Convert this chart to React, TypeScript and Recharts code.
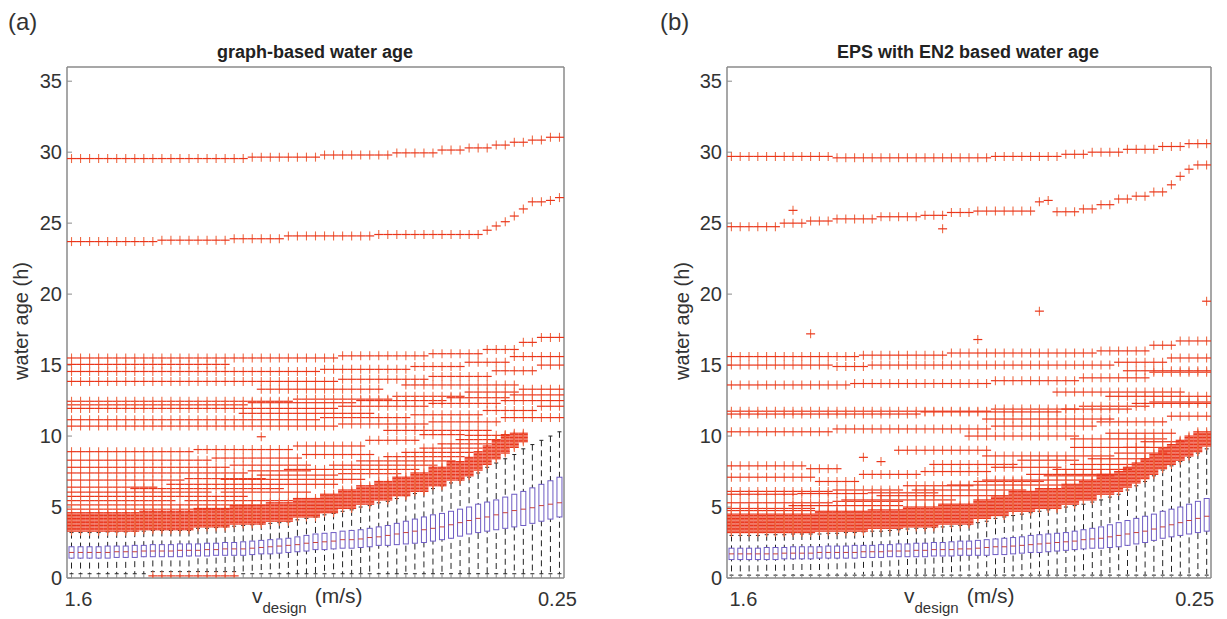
import React from "react";
import { ComposedChart, Bar, Scatter, XAxis, YAxis } from "recharts";

const FONT = "'Liberation Sans', Arial, Helvetica, sans-serif";
const OUT_H = "#ea351b";
const OUT_V = "#ee6a45";
const FRAME = "#8a8a8a";

// x tick labels (first and last box), y ticks
const xTickLabels = ["1.6", "0.25"];
const yTicks = [0, 5, 10, 15, 20, 25, 30, 35];

// ---- panel (a): graph-based water age, box stats per box (55 boxes) ----
const aLo = [
  0.3, 0.3, 0.3, 0.3, 0.3, 0.3, 0.3, 0.3, 0.3, 0.45,
  0.45, 0.45, 0.45, 0.45, 0.45, 0.45, 0.45, 0.45, 0.45, 0.3,
  0.3, 0.3, 0.3, 0.3, 0.3, 0.3, 0.3, 0.3, 0.3, 0.3,
  0.3, 0.3, 0.3, 0.3, 0.3, 0.3, 0.3, 0.3, 0.3, 0.3,
  0.3, 0.3, 0.3, 0.3, 0.3, 0.3, 0.3, 0.3, 0.3, 0.3,
  0.3, 0.3, 0.3, 0.3, 0.3,
];
const aQ1 = [
  1.4, 1.4, 1.4, 1.4, 1.4, 1.45, 1.45, 1.45, 1.5, 1.5,
  1.5, 1.5, 1.5, 1.55, 1.55, 1.55, 1.6, 1.6, 1.6, 1.6,
  1.65, 1.7, 1.7, 1.75, 1.8, 1.85, 1.9, 2.0, 2.0, 2.05,
  2.1, 2.1, 2.15, 2.2, 2.3, 2.3, 2.35, 2.4, 2.45, 2.5,
  2.6, 2.7, 2.8, 2.95, 3.1, 3.2, 3.3, 3.4, 3.5, 3.6,
  3.7, 3.85, 4.0, 4.15, 4.3,
];
const aMed = [
  1.8, 1.8, 1.8, 1.8, 1.8, 1.85, 1.85, 1.85, 1.9, 1.9,
  1.9, 1.9, 1.95, 1.95, 1.95, 2.0, 2.0, 2.05, 2.05, 2.05,
  2.1, 2.15, 2.2, 2.25, 2.3, 2.35, 2.45, 2.5, 2.55, 2.6,
  2.7, 2.7, 2.75, 2.85, 2.9, 3.0, 3.1, 3.2, 3.3, 3.4,
  3.5, 3.6, 3.75, 3.9, 4.05, 4.2, 4.3, 4.45, 4.6, 4.75,
  4.85, 4.95, 5.1, 5.2, 5.3,
];
const aQ3 = [
  2.2, 2.2, 2.2, 2.2, 2.25, 2.25, 2.25, 2.3, 2.3, 2.35,
  2.35, 2.35, 2.4, 2.4, 2.4, 2.45, 2.45, 2.5, 2.5, 2.55,
  2.6, 2.65, 2.7, 2.75, 2.8, 2.9, 3.0, 3.1, 3.15, 3.2,
  3.3, 3.35, 3.4, 3.5, 3.6, 3.7, 3.85, 4.0, 4.15, 4.3,
  4.45, 4.55, 4.7, 4.85, 5.0, 5.2, 5.35, 5.5, 5.7, 5.9,
  6.1, 6.35, 6.6, 6.85, 7.1,
];
const aHi = [
  3.2, 3.2, 3.2, 3.2, 3.25, 3.25, 3.25, 3.3, 3.3, 3.35,
  3.35, 3.35, 3.35, 3.35, 3.5, 3.5, 3.55, 3.6, 3.65, 3.7,
  3.75, 3.8, 3.85, 3.9, 3.95, 4.1, 4.2, 4.3, 4.45, 4.55,
  4.7, 4.8, 5.0, 5.1, 5.3, 5.4, 5.6, 5.8, 5.95, 6.1,
  6.3, 6.5, 6.7, 6.9, 7.1, 7.4, 7.8, 8.1, 8.4, 8.7,
  9.1, 9.4, 9.7, 10.0, 10.3,
];
// outliers as rows of "+": [value, first box, last box]
const aOutliers: [number, number, number][] = [
  // ~30 h row
  [29.55, 1, 20], [29.65, 21, 28], [29.8, 29, 36], [29.95, 37, 41], [30.15, 42, 44],
  [30.3, 45, 47], [30.5, 48, 49], [30.7, 50, 51], [30.85, 52, 53], [31.05, 54, 55],
  // ~24 h row
  [23.7, 1, 10], [23.8, 11, 18], [23.9, 19, 24], [24.1, 25, 34], [24.2, 35, 46],
  [24.5, 47, 47], [24.8, 48, 48], [25.1, 49, 49], [25.5, 50, 50], [26.0, 51, 51],
  [26.5, 52, 53], [26.6, 54, 54], [26.8, 55, 55],
  // 10-17 h group
  [15.5, 1, 30], [15.65, 31, 40], [15.8, 41, 46], [16.1, 47, 50], [16.6, 51, 52], [16.95, 53, 55],
  [15.05, 1, 18],
  [14.55, 1, 28], [14.7, 29, 38], [14.9, 39, 44], [15.2, 45, 49], [15.6, 50, 55],
  [13.85, 1, 30], [14.0, 31, 40], [14.2, 41, 47], [14.6, 48, 52], [15.0, 53, 55],
  [12.45, 1, 25], [12.6, 26, 36], [12.8, 37, 44], [13.1, 45, 50], [13.3, 51, 55],
  [12.2, 1, 20], [12.35, 21, 32], [12.5, 33, 42], [12.7, 43, 49], [12.9, 50, 55],
  [11.95, 1, 30], [12.1, 31, 40], [12.3, 41, 48], [12.5, 49, 55],
  [11.15, 1, 28], [11.3, 29, 38], [11.5, 39, 46], [11.8, 47, 52], [12.1, 53, 55],
  [10.7, 1, 30], [10.85, 31, 40], [11.0, 41, 48], [11.3, 49, 55],
  [13.3, 22, 35], [11.6, 20, 34], [13.6, 38, 50], [10.4, 36, 47],
  // sparse rows above the mass
  [8.9, 1, 14], [9.05, 15, 25], [9.3, 26, 33], [9.7, 34, 39], [10.1, 40, 44],
  [8.3, 1, 16], [8.45, 17, 26], [8.7, 27, 34],
  [7.8, 1, 18], [7.95, 19, 27],
  [7.4, 1, 20], [7.55, 21, 27],
  [6.9, 1, 13], [7.0, 14, 22],
  [6.4, 1, 10],
  // medium rows above the core
  [4.85, 1, 18], [5.15, 1, 22], [5.45, 1, 12], [5.45, 14, 25], [5.75, 1, 20], [6.05, 1, 16],
  [6.05, 18, 27], [6.3, 8, 24], [6.6, 12, 30], [6.95, 18, 33], [7.25, 22, 30], [7.35, 31, 37],
  [7.65, 25, 39], [7.95, 30, 41], [8.25, 33, 43], [8.55, 36, 44], [8.85, 38, 45], [9.15, 40, 46],
  [9.45, 42, 47], [9.75, 44, 48], [10.05, 45, 49],
  // dense core along the lower edge
  [3.3, 1, 8], [3.4, 1, 14], [3.5, 1, 14], [3.6, 1, 18], [3.7, 1, 18], [3.8, 1, 22], [3.9, 1, 22],
  [4.0, 1, 25], [4.1, 1, 25], [4.2, 1, 25], [4.3, 1, 28], [4.4, 1, 28], [4.5, 1, 28], [4.6, 1, 30],
  [4.7, 9, 30], [4.8, 15, 30], [4.9, 15, 32], [5.0, 19, 32], [5.1, 19, 32], [5.2, 23, 34],
  [5.3, 23, 34], [5.4, 26, 34], [5.5, 26, 36], [5.6, 26, 36], [5.7, 29, 36], [5.8, 29, 38],
  [5.9, 29, 38], [6.0, 31, 38], [6.1, 31, 40], [6.2, 31, 40], [6.3, 33, 40], [6.4, 33, 40],
  [6.5, 33, 42], [6.6, 35, 42], [6.7, 35, 42], [6.8, 35, 42], [6.9, 37, 44], [7.0, 37, 44],
  [7.1, 37, 44], [7.2, 39, 45], [7.3, 39, 45], [7.4, 39, 45], [7.5, 41, 45], [7.6, 41, 46],
  [7.7, 41, 46], [7.8, 41, 46], [7.9, 43, 46], [8.0, 43, 47], [8.1, 43, 47], [8.2, 43, 47],
  [8.3, 45, 47], [8.4, 45, 48], [8.5, 45, 48], [8.6, 46, 48], [8.7, 46, 48], [8.8, 46, 49],
  [8.9, 46, 49], [9.0, 47, 49], [9.1, 47, 49], [9.2, 47, 50], [9.3, 47, 50], [9.4, 48, 50],
  [9.5, 48, 50], [9.6, 48, 51], [9.7, 48, 51], [9.8, 49, 51], [9.9, 49, 51], [10.0, 49, 51],
  [10.1, 49, 51], [10.2, 50, 51],
  // single points
  [9.95, 22, 22], [0.15, 10, 19],
];

// ---- panel (b): EPS with EN2 based water age ----
const bLo = [
  0.2, 0.2, 0.2, 0.2, 0.2, 0.2, 0.2, 0.2, 0.2, 0.2,
  0.2, 0.2, 0.2, 0.2, 0.2, 0.2, 0.2, 0.2, 0.2, 0.2,
  0.2, 0.2, 0.2, 0.2, 0.2, 0.2, 0.2, 0.2, 0.2, 0.2,
  0.2, 0.2, 0.2, 0.2, 0.2, 0.2, 0.2, 0.2, 0.2, 0.2,
  0.2, 0.2, 0.2, 0.2, 0.2, 0.2, 0.2, 0.2, 0.2, 0.2,
  0.2, 0.2, 0.2, 0.2, 0.2,
];
const bQ1 = [
  1.3, 1.3, 1.3, 1.3, 1.3, 1.3, 1.35, 1.35, 1.35, 1.35,
  1.4, 1.4, 1.4, 1.4, 1.4, 1.45, 1.45, 1.45, 1.5, 1.5,
  1.5, 1.5, 1.5, 1.55, 1.55, 1.55, 1.6, 1.6, 1.6, 1.6,
  1.65, 1.65, 1.7, 1.75, 1.8, 1.8, 1.85, 1.9, 1.95, 2.0,
  2.05, 2.1, 2.1, 2.15, 2.2, 2.3, 2.4, 2.5, 2.65, 2.8,
  2.9, 3.0, 3.1, 3.2, 3.3,
];
const bMed = [
  1.7, 1.7, 1.7, 1.7, 1.7, 1.7, 1.75, 1.75, 1.75, 1.75,
  1.8, 1.8, 1.8, 1.8, 1.8, 1.85, 1.85, 1.85, 1.9, 1.9,
  1.9, 1.95, 1.95, 2.0, 2.0, 2.0, 2.05, 2.05, 2.1, 2.15,
  2.2, 2.2, 2.25, 2.3, 2.35, 2.4, 2.45, 2.5, 2.55, 2.6,
  2.7, 2.75, 2.8, 2.9, 3.0, 3.1, 3.2, 3.3, 3.45, 3.6,
  3.75, 3.9, 4.05, 4.2, 4.35,
];
const bQ3 = [
  2.1, 2.1, 2.1, 2.1, 2.15, 2.15, 2.15, 2.2, 2.2, 2.2,
  2.2, 2.25, 2.25, 2.25, 2.3, 2.3, 2.3, 2.35, 2.35, 2.4,
  2.4, 2.45, 2.45, 2.5, 2.5, 2.55, 2.6, 2.6, 2.65, 2.7,
  2.75, 2.8, 2.85, 2.9, 3.0, 3.05, 3.1, 3.15, 3.2, 3.3,
  3.4, 3.5, 3.6, 3.75, 3.9, 4.05, 4.2, 4.35, 4.5, 4.7,
  4.85, 5.0, 5.2, 5.4, 5.6,
];
const bHi = [
  3.0, 3.0, 3.0, 3.0, 3.05, 3.05, 3.05, 3.1, 3.1, 3.1,
  3.1, 3.15, 3.15, 3.2, 3.2, 3.25, 3.3, 3.3, 3.35, 3.4,
  3.45, 3.5, 3.5, 3.55, 3.6, 3.65, 3.7, 3.75, 3.9, 4.0,
  4.2, 4.3, 4.4, 4.5, 4.6, 4.7, 4.8, 4.9, 5.0, 5.1,
  5.2, 5.35, 5.5, 5.7, 5.9, 6.2, 6.5, 6.8, 7.2, 7.6,
  7.9, 8.2, 8.5, 8.8, 9.1,
];
const bOutliers: [number, number, number][] = [
  // ~30 h row
  [29.7, 1, 12], [29.6, 13, 30], [29.7, 31, 38], [29.85, 39, 41], [30.0, 42, 45],
  [30.2, 46, 49], [30.4, 50, 52], [30.6, 53, 55],
  // ~25 h row
  [24.75, 1, 6], [25.0, 7, 9], [25.15, 10, 12], [25.3, 13, 17], [25.45, 18, 22],
  [25.55, 23, 25], [25.75, 26, 28], [25.85, 29, 35], [26.5, 36, 36], [26.6, 37, 37],
  [25.8, 38, 40], [26.0, 41, 42], [26.3, 43, 44], [26.7, 45, 46], [26.9, 47, 48],
  [27.2, 49, 50], [27.7, 51, 51], [28.3, 52, 52], [28.8, 53, 53], [29.1, 54, 55],
  // single points
  [25.9, 8, 8], [24.6, 25, 25], [17.2, 10, 10], [18.8, 36, 36], [19.5, 55, 55], [16.8, 29, 29],
  // 10-17 h group
  [15.6, 1, 15], [15.7, 16, 25], [15.85, 26, 42], [16.0, 43, 48], [16.4, 49, 51], [16.7, 52, 55],
  [15.0, 1, 12], [14.9, 13, 16], [15.0, 17, 44], [15.2, 45, 50], [15.5, 51, 55],
  [13.6, 1, 14], [13.7, 15, 30], [13.9, 31, 40], [14.1, 41, 48], [14.5, 49, 55],
  [11.75, 1, 30], [11.9, 31, 40], [12.1, 41, 48], [12.4, 49, 55],
  [11.55, 1, 22], [11.7, 23, 38], [11.9, 39, 46], [12.3, 47, 55],
  [10.3, 1, 12], [10.5, 13, 30], [10.7, 31, 42], [11.0, 43, 50], [11.4, 51, 55],
  [13.1, 38, 52], [12.8, 44, 55], [14.6, 46, 55], [11.2, 30, 44], [10.0, 28, 40],
  // sparse rows
  [7.9, 1, 9], [7.7, 10, 13], [8.0, 24, 33], [8.3, 34, 40],
  [7.1, 1, 10], [6.8, 11, 15], [7.3, 16, 22], [7.5, 23, 30], [7.8, 31, 38],
  [6.1, 1, 12], [6.2, 13, 20], [6.5, 21, 28], [6.8, 29, 36], [7.2, 37, 44],
  [5.9, 1, 8], [5.95, 9, 16], [6.0, 17, 24],
  [5.3, 1, 12], [5.4, 13, 20],
  [4.9, 1, 10],
  [9.0, 20, 30], [8.6, 30, 44], [9.2, 40, 48], [9.8, 40, 50], [10.2, 44, 51], [8.5, 16, 16], [8.2, 18, 18],
  // medium rows above the core
  [4.75, 1, 10], [5.1, 8, 20], [5.5, 14, 26], [5.8, 18, 30], [6.2, 22, 34], [6.55, 26, 38],
  [6.9, 30, 40], [7.3, 35, 44], [7.65, 38, 46], [8.0, 40, 47], [8.4, 42, 48], [8.8, 45, 50],
  [9.2, 46, 51], [9.6, 48, 52],
  // dense core along the lower edge
  [3.2, 1, 10], [3.3, 1, 16], [3.4, 1, 16], [3.5, 1, 20], [3.6, 1, 24], [3.7, 1, 24],
  [3.8, 1, 28], [3.9, 1, 28], [4.0, 1, 28], [4.1, 1, 28], [4.2, 1, 30], [4.3, 1, 30],
  [4.4, 1, 32], [4.5, 1, 32], [4.6, 11, 32], [4.7, 11, 35], [4.8, 17, 35], [4.9, 21, 38],
  [5.0, 21, 38], [5.1, 25, 38], [5.2, 25, 40], [5.3, 29, 40], [5.4, 29, 40], [5.5, 29, 42],
  [5.6, 31, 42], [5.7, 31, 42], [5.8, 31, 42], [5.9, 33, 44], [6.0, 33, 44], [6.1, 33, 45],
  [6.2, 36, 45], [6.3, 36, 45], [6.4, 39, 46], [6.5, 39, 46], [6.6, 39, 46], [6.7, 41, 47],
  [6.8, 41, 47], [6.9, 41, 47], [7.0, 43, 48], [7.1, 43, 48], [7.2, 43, 48], [7.3, 43, 49],
  [7.4, 45, 49], [7.5, 45, 49], [7.6, 46, 49], [7.7, 46, 50], [7.8, 46, 50], [7.9, 47, 50],
  [8.0, 47, 51], [8.1, 47, 51], [8.2, 48, 51], [8.3, 48, 52], [8.4, 48, 52], [8.5, 49, 52],
  [8.6, 49, 53], [8.7, 49, 53], [8.8, 50, 53], [8.9, 50, 54], [9.0, 50, 54], [9.1, 50, 54],
  [9.2, 51, 54], [9.3, 51, 55], [9.4, 51, 55], [9.5, 52, 55], [9.6, 52, 55], [9.7, 52, 55],
  [9.8, 53, 55], [9.9, 53, 55], [10.0, 53, 55], [10.1, 54, 55], [10.2, 54, 55], [10.3, 54, 55],
];

function buildBoxes(lo: number[], q1: number[], med: number[], q3: number[], hi: number[]) {
  return q1.map((_, i) => ({
    k: i + 1,
    whisker: [lo[i], hi[i]],
    box: [q1[i], q3[i]],
    q1: q1[i],
    q3: q3[i],
    med: med[i],
  }));
}

function buildOutliers(rows: [number, number, number][]) {
  const pts: { k: number; v: number }[] = [];
  rows.forEach(([v, from, to]) => {
    for (let k = from; k <= to; k++) pts.push({ k, v });
  });
  return pts;
}

const boxesA = buildBoxes(aLo, aQ1, aMed, aQ3, aHi);
const boxesB = buildBoxes(bLo, bQ1, bMed, bQ3, bHi);
const outA = buildOutliers(aOutliers);
const outB = buildOutliers(bOutliers);
const boxTicks = boxesA.map((b) => b.k);
const lastBox = boxesA.length;

const Plus = (p: any) => {
  const { cx, cy } = p;
  if (cx == null || cy == null) return <g />;
  return (
    <g fill="none">
      <path d={`M${cx},${cy - 4.5}V${cy + 4.5}`} stroke={OUT_V} strokeWidth={1.1} />
      <path d={`M${cx - 4.5},${cy}H${cx + 4.5}`} stroke={OUT_H} strokeWidth={1.2} />
    </g>
  );
};

const WhiskerShape = (p: any) => {
  const { x, y, width, height } = p;
  const top = Math.min(y, y + height);
  const bot = Math.max(y, y + height);
  const cx = x + width / 2;
  return (
    <g>
      <line x1={cx} x2={cx} y1={top} y2={bot} stroke="#222" strokeDasharray="6 4" />
      <line x1={cx - 2} x2={cx + 2} y1={top} y2={top} stroke="#222" />
      <line x1={cx - 2} x2={cx + 2} y1={bot} y2={bot} stroke="#222" />
    </g>
  );
};

const BoxShape = (p: any) => {
  const { x, y, width, height, payload } = p;
  const top = Math.min(y, y + height);
  const h = Math.abs(height);
  const my = top + (h * (payload.q3 - payload.med)) / (payload.q3 - payload.q1);
  return (
    <g>
      <rect x={x} y={top} width={width} height={h} fill="#fff" stroke="#6e5cc4" strokeWidth={1} />
      <line x1={x} x2={x + width} y1={my} y2={my} stroke="#c8403a" />
    </g>
  );
};

const tickStyle = { fill: "#333", fontSize: 20, fontFamily: FONT };

function makeXTick(shift: [number, number]) {
  return (p: any) => {
    const { x, y, payload } = p;
    const v = payload?.value;
    if (v !== 1 && v !== lastBox) return <g />;
    const label = v === 1 ? xTickLabels[0] : xTickLabels[1];
    const dx = v === 1 ? shift[0] : shift[1];
    return (
      <text x={x + dx} y={y} dy="0.75em" textAnchor="middle" fill="#333" fontSize={20} fontFamily={FONT}>
        {label}
      </text>
    );
  };
}

function Panel({ left, width, plotLeft, plotRight, boxes, outliers, shift }: any) {
  return (
    <div style={{ position: "absolute", left, top: 0 }}>
      <ComposedChart
        width={width}
        height={619}
        data={boxes}
        margin={{ top: 67, right: width - plotRight - 1, bottom: 1, left: plotLeft - 57 }}
      >
        <XAxis
          xAxisId="w"
          type="number"
          dataKey="k"
          domain={[0.5, lastBox + 0.5]}
          allowDataOverflow
          ticks={boxTicks}
          interval={0}
          height={40}
          tickSize={-4}
          tickMargin={17}
          axisLine={{ stroke: FRAME, strokeWidth: 1.5 }}
          tickLine={{ stroke: FRAME }}
          tick={makeXTick(shift)}
        />
        <XAxis
          xAxisId="t"
          orientation="top"
          type="number"
          dataKey="k"
          domain={[0.5, lastBox + 0.5]}
          allowDataOverflow
          ticks={boxTicks}
          interval={0}
          mirror
          height={1}
          tickSize={4}
          tick={false}
          axisLine={{ stroke: FRAME, strokeWidth: 1.5 }}
          tickLine={{ stroke: FRAME }}
        />
        <YAxis
          yAxisId="l"
          type="number"
          domain={[0, 36]}
          allowDataOverflow
          ticks={yTicks}
          interval={0}
          width={57}
          tickSize={-5}
          tickMargin={10}
          axisLine={{ stroke: FRAME, strokeWidth: 1.5 }}
          tickLine={{ stroke: FRAME }}
          tick={tickStyle}
        />
        <YAxis
          yAxisId="r"
          orientation="right"
          type="number"
          domain={[0, 36]}
          allowDataOverflow
          ticks={yTicks}
          interval={0}
          mirror
          width={1}
          tickSize={5}
          tick={false}
          axisLine={{ stroke: FRAME, strokeWidth: 1.5 }}
          tickLine={{ stroke: FRAME }}
        />
        <Bar xAxisId="w" yAxisId="l" dataKey="whisker" barSize={5} shape={WhiskerShape} isAnimationActive={false} />
        <Bar xAxisId="t" yAxisId="r" dataKey="box" barSize={5} shape={BoxShape} isAnimationActive={false} />
        <Scatter
          data={outliers}
          xAxisId="w"
          yAxisId="l"
          dataKey="v"
          shape={Plus}
          isAnimationActive={false}
        />
      </ComposedChart>
    </div>
  );
}

const abs = (left: number, top: number, extra: React.CSSProperties = {}): React.CSSProperties => ({
  position: "absolute",
  left,
  top,
  fontFamily: FONT,
  color: "#333",
  whiteSpace: "nowrap",
  ...extra,
});

function XLabel({ left }: { left: number }) {
  return (
    <div style={abs(left, 584, { fontSize: 21 })}>
      <span>v</span>
      <span style={{ fontSize: 15, position: "relative", top: 10 }}>design</span>
      <span style={{ marginLeft: 8 }}>(m/s)</span>
    </div>
  );
}

function YLabel({ cx }: { cx: number }) {
  return (
    <div
      style={abs(cx - 70, 309, {
        width: 140,
        textAlign: "center",
        fontSize: 20,
        transform: "rotate(-90deg)",
        transformOrigin: "70px 12px",
      })}
    >
      water age (h)
    </div>
  );
}

export default function App() {
  return (
    <div style={{ position: "absolute", left: 0, top: 0, width: 1227, height: 619, background: "#fff", overflow: "hidden" }}>
      <div style={abs(8, 8, { fontSize: 24 })}>(a)</div>
      <div style={abs(660, 8, { fontSize: 24 })}>(b)</div>
      <div style={abs(115, 42, { width: 400, textAlign: "center", fontSize: 18, fontWeight: "bold", color: "#222" })}>
        graph-based water age
      </div>
      <div style={abs(768, 42, { width: 400, textAlign: "center", fontSize: 18, fontWeight: "bold", color: "#222" })}>
        EPS with EN2 based water age
      </div>
      <YLabel cx={22} />
      <YLabel cx={683} />
      <XLabel left={252} />
      <XLabel left={904} />
      <Panel left={0} width={600} plotLeft={67} plotRight={563} boxes={boxesA} outliers={outA} shift={[7, -2]} />
      <Panel left={640} width={587} plotLeft={87} plotRight={570} boxes={boxesB} outliers={outB} shift={[12, -12]} />
    </div>
  );
}
